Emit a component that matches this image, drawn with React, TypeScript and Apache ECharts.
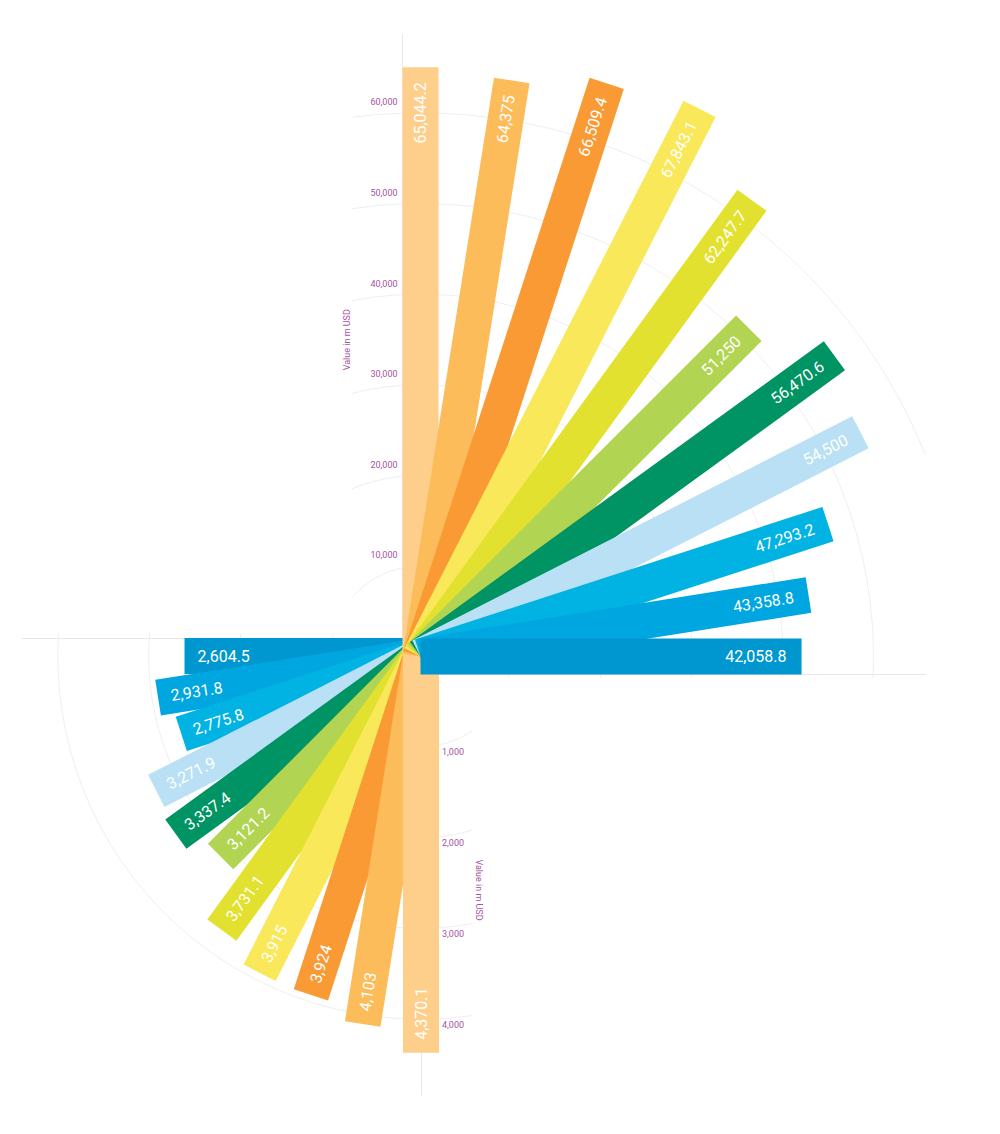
import React, { useEffect, useRef } from "react";
import * as echarts from "echarts";

// ---- data ----
const upperValues = [65044.2, 64375, 66509.4, 67843.1, 62247.7, 51250, 56470.6, 54500, 47293.2, 43358.8, 42058.8];
const lowerValues = [4370.1, 4103, 3924, 3915, 3731.1, 3121.2, 3337.4, 3271.9, 2775.8, 2931.8, 2604.5];
const barColors = [
  "#fece8b", "#fdbc5a", "#f99a35", "#f8e85a", "#e3e12f", "#b1d453",
  "#009363", "#b9e0f4", "#00b3e3", "#00a6e0", "#0096d0",
];
const upperTicks = [10000, 20000, 30000, 40000, 50000, 60000];
const lowerTicks = [1000, 2000, 3000, 4000];
const axisTitle = "Value in m USD";

// ---- layout / style ----
const PX_UP = 9.06 / 1000;
const PX_LOW = 90.8 / 1000;
const UP_ORIGIN = [420.5, 656.5];
const LOW_ORIGIN = [421, 656];
const UP_X_MAX = 55700;
const UP_Y_MAX = 68600;
const LOW_X_MAX = 4390;
const LOW_Y_MAX = 4835;
const BAR_HALF = 18;
const ANGLE_STEP = Math.PI / 2 / (upperValues.length - 1);
const UP_CLIP = { left: 352, right: 925, bottom: 678 };
const LOW_CLIP = { right: 472, top: 633 };
const AXIS_COLOR = "#ebe5ee";
const GRID_COLOR = "#efefef";
const TICK_COLOR = "#a4539f";
const FONT = "Roboto, 'DejaVu Sans', sans-serif";

const fmt = (v: number) => v.toLocaleString("en-US", { maximumFractionDigits: 1 });

function makeBarRenderer(lower: boolean) {
  return (_params: any, api: any) => {
    const i = api.value(0) as number;
    const v = api.value(1) as number;
    const a = i * ANGLE_STEP;
    const c = api.coord([0, 0]);
    const e = api.coord([v * Math.sin(a), v * Math.cos(a)]);
    const dx = e[0] - c[0];
    const dy = e[1] - c[1];
    const len = Math.hypot(dx, dy);
    const ux = dx / len;
    const uy = dy / len;
    const nx = -uy * BAR_HALF;
    const ny = ux * BAR_HALF;
    const points = [
      [c[0] + nx, c[1] + ny],
      [e[0] + nx, e[1] + ny],
      [e[0] - nx, e[1] - ny],
      [c[0] - nx, c[1] - ny],
    ];
    const pad = lower ? 13 : 15;
    const tx = c[0] + ux * (len - pad);
    const ty = c[1] + uy * (len - pad);
    const rotation = lower ? Math.atan2(uy, -ux) : Math.atan2(-uy, ux);
    return {
      type: "group",
      children: [
        {
          type: "polygon",
          shape: { points },
          style: { fill: barColors[i] },
          z2: lower ? 10 - i : i,
        },
        {
          type: "text",
          x: tx,
          y: ty,
          rotation,
          z2: 100,
          style: {
            text: fmt(v),
            fill: "#ffffff",
            fontSize: 16,
            fontFamily: FONT,
            align: lower ? "left" : "right",
            verticalAlign: "middle",
          },
        },
      ],
    };
  };
}

function makeArcRenderer(lower: boolean) {
  return (_params: any, api: any) => {
    const t = api.value(1) as number;
    const c = api.coord([0, 0]);
    const p = api.coord([0, t]);
    const r = Math.abs(p[1] - c[1]);
    let start: number;
    let end: number;
    if (!lower) {
      const phiMin = Math.asin(Math.max(-1, Math.min(1, (UP_CLIP.left - c[0]) / r)));
      let phiMax = Math.acos(Math.max(-1, Math.min(1, -(UP_CLIP.bottom - c[1]) / r)));
      const sr = (UP_CLIP.right - c[0]) / r;
      if (sr < 1) phiMax = Math.min(phiMax, Math.asin(sr));
      start = phiMin - Math.PI / 2;
      end = phiMax - Math.PI / 2;
    } else {
      const psiMin = -Math.asin(Math.min(1, (LOW_CLIP.right - c[0]) / r));
      const psiMax = Math.acos(Math.max(-1, Math.min(1, -(c[1] - LOW_CLIP.top) / r)));
      start = psiMin + Math.PI / 2;
      end = psiMax + Math.PI / 2;
    }
    return {
      type: "arc",
      shape: { cx: c[0], cy: c[1], r, startAngle: start, endAngle: end, clockwise: true },
      style: { stroke: GRID_COLOR, fill: "none", lineWidth: 1 },
    };
  };
}

const hiddenAxisParts = {
  axisTick: { show: false },
  splitLine: { show: false },
};

export default function App() {
  const ref = useRef<HTMLDivElement>(null);
  useEffect(() => {
    if (!ref.current) return;
    const chart = echarts.init(ref.current, null, { renderer: "svg" });
    const option: any = {
      animation: false,
      backgroundColor: "#ffffff",
      grid: [
        {
          left: UP_ORIGIN[0],
          top: UP_ORIGIN[1] - UP_Y_MAX * PX_UP,
          width: UP_X_MAX * PX_UP,
          height: UP_Y_MAX * PX_UP,
          containLabel: false,
          outerBoundsMode: "none",
        },
        {
          left: LOW_ORIGIN[0] - LOW_X_MAX * PX_LOW,
          top: LOW_ORIGIN[1],
          width: LOW_X_MAX * PX_LOW,
          height: LOW_Y_MAX * PX_LOW,
          containLabel: false,
          outerBoundsMode: "none",
        },
      ],
      xAxis: [
        {
          gridIndex: 0,
          type: "value",
          min: 0,
          max: UP_X_MAX,
          position: "bottom",
          offset: BAR_HALF,
          axisLine: { show: true, onZero: false, lineStyle: { color: AXIS_COLOR, width: 1 } },
          axisLabel: { show: false },
          ...hiddenAxisParts,
        },
        {
          gridIndex: 1,
          type: "value",
          min: 0,
          max: LOW_X_MAX,
          inverse: true,
          position: "top",
          offset: BAR_HALF,
          axisLine: { show: true, onZero: false, lineStyle: { color: AXIS_COLOR, width: 1 } },
          axisLabel: { show: false },
          ...hiddenAxisParts,
        },
      ],
      yAxis: [
        {
          gridIndex: 0,
          type: "value",
          min: 0,
          max: UP_Y_MAX,
          interval: 10000,
          position: "left",
          offset: BAR_HALF,
          name: axisTitle,
          nameLocation: "middle",
          nameRotate: 90,
          nameGap: 51,
          nameTextStyle: { color: TICK_COLOR, fontSize: 9, fontFamily: FONT, padding: [0, 0, 0, 12] },
          axisLine: { show: true, onZero: false, lineStyle: { color: AXIS_COLOR, width: 1 } },
          axisLabel: {
            show: true,
            showMinLabel: false,
            showMaxLabel: false,
            margin: 5,
            color: TICK_COLOR,
            fontSize: 9,
            fontFamily: FONT,
            verticalAlign: "bottom",
            lineHeight: 21,
          },
          ...hiddenAxisParts,
        },
        {
          gridIndex: 1,
          type: "value",
          min: 0,
          max: LOW_Y_MAX,
          interval: 1000,
          inverse: true,
          position: "right",
          offset: 0,
          name: axisTitle,
          nameLocation: "middle",
          nameRotate: -90,
          nameGap: 53,
          nameTextStyle: { color: TICK_COLOR, fontSize: 9, fontFamily: FONT, padding: [0, 0, 0, 29] },
          axisLine: { show: true, onZero: false, lineStyle: { color: AXIS_COLOR, width: 1 } },
          axisLabel: {
            show: true,
            showMinLabel: false,
            showMaxLabel: false,
            margin: 21,
            color: TICK_COLOR,
            fontSize: 9,
            fontFamily: FONT,
            verticalAlign: "top",
            lineHeight: 11,
          },
          ...hiddenAxisParts,
        },
      ],
      series: [
        {
          type: "custom",
          xAxisIndex: 0,
          yAxisIndex: 0,
          silent: true,
          z: 1,
          data: upperTicks.map((t) => [0, t]),
          renderItem: makeArcRenderer(false),
        },
        {
          type: "custom",
          xAxisIndex: 1,
          yAxisIndex: 1,
          silent: true,
          z: 1,
          data: lowerTicks.map((t) => [0, t]),
          renderItem: makeArcRenderer(true),
        },
        {
          type: "custom",
          xAxisIndex: 1,
          yAxisIndex: 1,
          silent: true,
          z: 2,
          data: lowerValues.map((v, i) => [i, v]).reverse(),
          renderItem: makeBarRenderer(true),
        },
        {
          type: "custom",
          xAxisIndex: 0,
          yAxisIndex: 0,
          silent: true,
          z: 3,
          data: upperValues.map((v, i) => [i, v]),
          renderItem: makeBarRenderer(false),
        },
      ],
    };
    chart.setOption(option);
    return () => chart.dispose();
  }, []);
  return (
    <div
      ref={ref}
      style={{ position: "absolute", left: 0, top: 0, width: 1000, height: 1134, background: "#fff" }}
    />
  );
}
